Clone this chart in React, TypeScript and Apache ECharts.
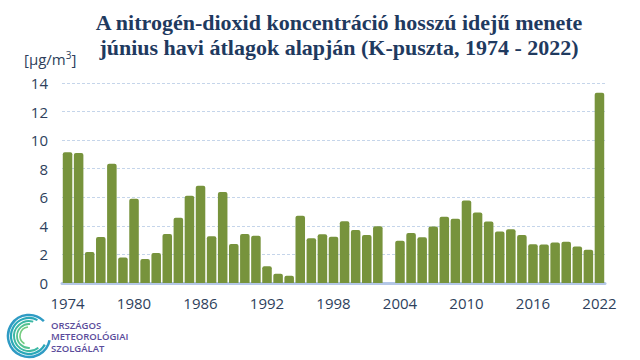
import React, { useEffect, useRef } from "react";
import * as echarts from "echarts";

const years: string[] = [];
for (let y = 1974; y <= 2022; y++) years.push(String(y));

const values: (number | null)[] = [
  9.16, 9.1, 2.17, 3.22, 8.34, 1.78, 5.89, 1.68, 2.1, 3.43,
  4.56, 6.1, 6.8, 3.28, 6.37, 2.73, 3.43, 3.31, 1.17, 0.65,
  0.51, 4.71, 3.13, 3.41, 3.24, 4.32, 3.71, 3.36, 3.97, null,
  2.95, 3.5, 3.2, 3.95, 4.63, 4.5, 5.78, 4.93, 4.3, 3.6,
  3.76, 3.36, 2.72, 2.7, 2.84, 2.89, 2.55, 2.32, 13.32,
];

const labelYears = ["1974", "1980", "1986", "1992", "1998", "2004", "2010", "2016", "2022"];
const titleLines = [
  "A nitrogén-dioxid koncentráció hosszú idejű menete",
  "június havi átlagok alapján (K-puszta, 1974 - 2022)",
];
const logoLines = ["ORSZÁGOS", "METEOROLÓGIAI", "SZOLGÁLAT"];

export default function App() {
  const ref = useRef<HTMLDivElement>(null);
  useEffect(() => {
    const chart = echarts.init(ref.current!, null, { renderer: "svg" });
    const logoArcs: any[] = [];
    const arcSpecs = [
      { r: 21, s: 0.2, e: 5.5, c: "#2f9bc4", w: 2.5 },
      { r: 18, s: 0.5, e: 5.2, c: "#2aa8b8", w: 2.2 },
      { r: 15, s: 0.9, e: 5.0, c: "#3db8a4", w: 2 },
      { r: 12, s: 1.5, e: 4.8, c: "#55c290", w: 1.8 },
      { r: 9, s: 2.1, e: 4.6, c: "#74cc80", w: 1.6 },
    ];
    arcSpecs.forEach((a) => {
      logoArcs.push({
        type: "arc",
        shape: { cx: 29, cy: 336, r: a.r, startAngle: a.s, endAngle: a.e },
        style: { stroke: a.c, lineWidth: a.w, fill: "none" },
      });
    });
    chart.setOption({
      animation: false,
      grid: { left: 62, right: 35, top: 83, bottom: 77 },
      title: {
        text: titleLines.join("\n"),
        left: 334,
        textAlign: "center",
        top: 5,
        textStyle: {
          fontFamily: "Liberation Serif",
          fontWeight: "bold",
          fontSize: 22,
          lineHeight: 25,
          color: "#1f3a5f",
        },
      },
      xAxis: {
        type: "category",
        data: years,
        axisLine: { lineStyle: { color: "#b4c7e7", width: 3 } },
        axisTick: { show: false },
        axisLabel: {
          interval: (i: number, v: string) => labelYears.includes(v),
          color: "#2e3f5c",
          fontSize: 15,
          fontFamily: "Open Sans",
          margin: 12,
        },
      },
      yAxis: {
        type: "value",
        min: 0,
        max: 14,
        interval: 2,
        axisLine: { show: false },
        axisTick: { show: false },
        splitLine: { lineStyle: { color: "#c5d5ea", type: [3, 2], width: 1 } },
        axisLabel: {
          color: "#2e3f5c",
          fontSize: 15,
          fontFamily: "Open Sans",
          margin: 14,
        },
      },
      series: [
        {
          type: "bar",
          data: values,
          barCategoryGap: "14%",
          itemStyle: { color: "#77933c", borderRadius: [2, 2, 0, 0] },
        },
      ],
      graphic: [
        {
          type: "text",
          left: 24,
          top: 50,
          style: {
            text: "[μg/m{s|3}]",
            fill: "#2e3f5c",
            font: "15px 'Open Sans'",
            rich: { s: { fontSize: 10, verticalAlign: "top", padding: [0, 0, 8, 0], fill: "#2e3f5c", fontFamily: "Open Sans" } },
          } as any,
        },
        ...logoArcs,
        ...logoLines.map((t, i) => ({
          type: "text",
          left: 51,
          top: 320 + i * 11.5,
          style: { text: t, fill: "#5a4b9b", font: "600 9.5px 'Open Sans'" },
        })),
      ],
    });
    return () => chart.dispose();
  }, []);
  return <div ref={ref} style={{ width: 640, height: 360, position: "absolute", left: 0, top: 0, background: "#fff" }} />;
}
